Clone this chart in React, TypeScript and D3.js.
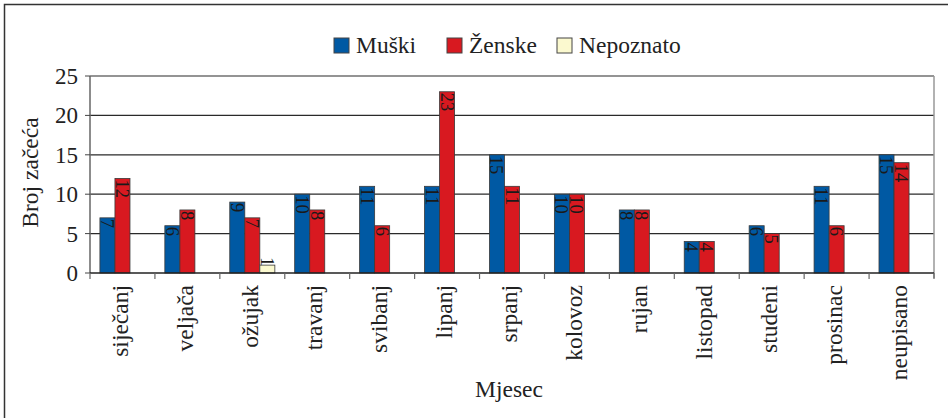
import React from 'react';
import * as d3 from 'd3';

const months = [
  'siječanj', 'veljača', 'ožujak', 'travanj', 'svibanj', 'lipanj', 'srpanj',
  'kolovoz', 'rujan', 'listopad', 'studeni', 'prosinac', 'neupisano',
];
const muski = [7, 6, 9, 10, 11, 11, 15, 10, 8, 4, 6, 11, 15];
const zenske = [12, 8, 7, 8, 6, 23, 11, 10, 8, 4, 5, 6, 14];
const nepoznato = [0, 0, 1, 0, 0, 0, 0, 0, 0, 0, 0, 0, 0];
const seriesNames = ['Muški', 'Ženske', 'Nepoznato'];
const seriesColors = ['#0059a3', '#d81920', '#fbf9cf'];
const yTicks = [0, 5, 10, 15, 20, 25];

const W = 948;
const H = 418;
const margin = { top: 76, right: 14, bottom: 145, left: 90 };
const FONT = "'Liberation Serif'";

const x0 = margin.left;
const x1 = W - margin.right;
const y0 = H - margin.bottom;
const y1 = margin.top;

const x = d3.scaleBand<string>().domain(months).range([x0, x1]).paddingInner(0).paddingOuter(0);
const inner = d3.scaleBand<number>().domain([0, 1, 2])
  .range([0, x.bandwidth()]).paddingInner(0).paddingOuter(0.66);
const y = d3.scaleLinear().domain([0, 25]).range([y0, y1]);

const series = [muski, zenske, nepoznato];
const legendX = [334, 447, 557];

const App = () => {
  const txt = { fontFamily: FONT, fill: '#222' };
  return (
    <svg width={W} height={H} style={{ position: 'absolute', left: 0, top: 0, background: '#fff' }}>
      {/* outer frame */}
      <rect x={4.5} y={4.5} width={W + 20} height={H + 20} fill="#fff" stroke="#333" strokeWidth={1.5} />

      {/* gridlines */}
      {yTicks.slice(1).map(t => (
        <line key={t} x1={x0} x2={x1} y1={y(t)} y2={y(t)} stroke="#2a2a2a" strokeWidth={1.2} />
      ))}
      <line x1={x1} x2={x1} y1={y1} y2={y0 + 5} stroke="#999" strokeWidth={1.5} />

      {/* bars */}
      {series.map((vals, si) => (
        <g key={si}>
          {vals.map((v, i) => {
            if (v <= 0) return null;
            const bx = (x(months[i]) as number) + (inner(si) as number);
            const bw = inner.bandwidth();
            const h = y0 - y(v);
            const top = h > 22 ? y(v) + 1 : y(v) - 8;
            return (
              <g key={i}>
                <rect x={bx} y={y(v)} width={bw} height={h} fill={seriesColors[si]} stroke="#3a3a3a" strokeWidth={0.8} />
                <text
                  transform={`translate(${bx + bw / 2},${top}) rotate(90)`}
                  dy="0.35em"
                  fontSize={18.5}
                  style={{ fontFamily: FONT }}
                  fill="#1a1a1a"
                >
                  {v}
                </text>
              </g>
            );
          })}
        </g>
      ))}

      {/* y axis */}
      <line x1={x0} x2={x0} y1={y1} y2={y0} stroke="#666" strokeWidth={1.5} />
      {yTicks.map(t => (
        <g key={t}>
          <line x1={x0 - 5} x2={x0} y1={y(t)} y2={y(t)} stroke="#444" />
          <text x={x0 - 12} y={y(t)} dy="0.35em" textAnchor="end" fontSize={23} style={txt}>{t}</text>
        </g>
      ))}

      {/* x axis */}
      <line x1={x0} x2={x1} y1={y0} y2={y0} stroke="#222" strokeWidth={1.5} />
      {d3.range(months.length + 1).map(i => (
        <line key={i} x1={x0 + i * x.step()} x2={x0 + i * x.step()} y1={y0} y2={y0 + 6} stroke="#666" strokeWidth={1.2} />
      ))}
      {months.map(m => (
        <text
          key={m}
          transform={`translate(${(x(m) as number) + x.bandwidth() / 2 - 3},${y0 + 12}) rotate(-90)`}
          dy="0.35em"
          textAnchor="end"
          fontSize={23.5}
          style={txt}
        >
          {m}
        </text>
      ))}

      {/* axis titles */}
      <text x={(x0 + x1) / 2 - 3} y={397} textAnchor="middle" fontSize={23.5} style={txt}>Mjesec</text>
      <text transform={`translate(38,${(y0 + y1) / 2 - 2}) rotate(-90)`} textAnchor="middle" fontSize={23.5} style={txt}>
        Broj začeća
      </text>

      {/* legend */}
      {seriesNames.map((name, i) => (
        <g key={name}>
          <rect x={legendX[i]} y={38} width={15} height={15} fill={seriesColors[i]} stroke="#444" strokeWidth={1} />
          <text x={legendX[i] + 22} y={53} fontSize={23.5} style={txt}>{name}</text>
        </g>
      ))}
    </svg>
  );
};

export default App;
